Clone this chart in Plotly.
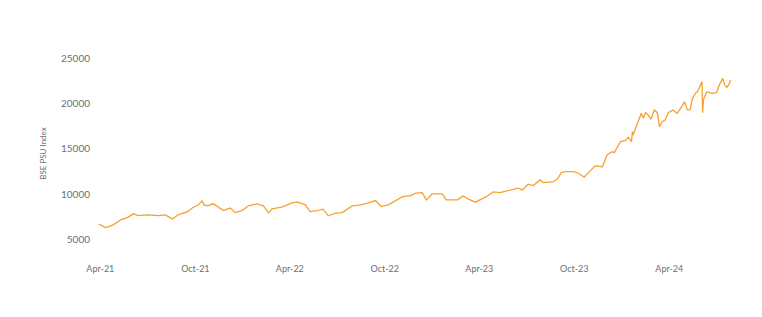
import plotly.graph_objects as go

dates = [
    "2021-03-29", "2021-04-11", "2021-04-16", "2021-04-26", "2021-05-10", "2021-05-23",
    "2021-06-04", "2021-06-13", "2021-07-02", "2021-07-22", "2021-08-04", "2021-08-18",
    "2021-08-29", "2021-09-16", "2021-09-25", "2021-10-07", "2021-10-14", "2021-10-18",
    "2021-10-24", "2021-11-05", "2021-11-24", "2021-12-07", "2021-12-17", "2021-12-30",
    "2022-01-11", "2022-01-28", "2022-02-09", "2022-02-19", "2022-02-26", "2022-03-18",
    "2022-04-06", "2022-04-17", "2022-05-01", "2022-05-10", "2022-05-24", "2022-06-04",
    "2022-06-14", "2022-06-28", "2022-07-11", "2022-07-30", "2022-08-15", "2022-08-24",
    "2022-09-13", "2022-09-24", "2022-10-08", "2022-10-21", "2022-11-04", "2022-11-15",
    "2022-11-19", "2022-11-29", "2022-12-12", "2022-12-20", "2022-12-31", "2023-01-20",
    "2023-01-27", "2023-02-18", "2023-03-01", "2023-03-11", "2023-03-24", "2023-04-13",
    "2023-04-28", "2023-05-11", "2023-05-27", "2023-06-09", "2023-06-15", "2023-06-23",
    "2023-07-04", "2023-07-14", "2023-07-27", "2023-08-02", "2023-08-20", "2023-08-29",
    "2023-09-06", "2023-09-14", "2023-09-29", "2023-10-09", "2023-10-20", "2023-10-28",
    "2023-11-10", "2023-11-24", "2023-12-03", "2023-12-13", "2023-12-17", "2023-12-25",
    "2023-12-29", "2024-01-07", "2024-01-13", "2024-01-19", "2024-01-21", "2024-01-22",
    "2024-02-01", "2024-02-07", "2024-02-11", "2024-02-15", "2024-02-20", "2024-02-26",
    "2024-03-03", "2024-03-09", "2024-03-13", "2024-03-18", "2024-03-24", "2024-03-30",
    "2024-04-08", "2024-04-16", "2024-04-26", "2024-04-30", "2024-05-06", "2024-05-11",
    "2024-05-15", "2024-05-21", "2024-05-25", "2024-06-03", "2024-06-04", "2024-06-06",
    "2024-06-12", "2024-06-22", "2024-07-01", "2024-07-07", "2024-07-13", "2024-07-17",
    "2024-07-21", "2024-07-25", "2024-07-28",
]

bse_psu = [
    6730, 6350, 6430, 6650, 7200, 7450,
    7860, 7670, 7750, 7670, 7750, 7300,
    7750, 8110, 8500, 8850, 9290, 8850,
    8740, 8960, 8220, 8500, 8000, 8220,
    8740, 8960, 8740, 7970, 8400, 8630,
    9100, 9140, 8850, 8110, 8220, 8370,
    7640, 7930, 8000, 8740, 8850, 8960,
    9320, 8660, 8850, 9320, 9760, 9840,
    9840, 10130, 10200, 9400, 10050, 10050,
    9400, 9400, 9840, 9470, 9140, 9690,
    10270, 10200, 10420, 10570, 10680, 10490,
    11120, 10970, 11590, 11300, 11370, 11670,
    12400, 12510, 12510, 12330, 11890, 12400,
    13130, 13050, 14340, 14700, 14590, 15440,
    15800, 15910, 16290, 15800, 16900, 16540,
    18000, 18920, 18370, 18990, 18740, 18260,
    19290, 18990, 17450, 18000, 18190, 18990,
    19290, 18920, 19730, 20200, 19290, 19290,
    20460, 21120, 21300, 22400, 18990, 20460,
    21300, 21120, 21190, 22140, 22770, 22030,
    21780, 22140, 22580,
]

tick_dates = ["2021-04-01", "2021-10-01", "2022-04-01", "2022-10-01",
              "2023-04-01", "2023-10-01", "2024-04-01"]
tick_labels = ["Apr-21", "Oct-21", "Apr-22", "Oct-22", "Apr-23", "Oct-23", "Apr-24"]
y_ticks = [5000, 10000, 15000, 20000, 25000]

fig = go.Figure()
fig.add_trace(go.Scatter(
    x=dates, y=bse_psu, mode="lines",
    line=dict(color="#F7A130", width=1.3),
    showlegend=False, hoverinfo="x+y",
))

fig.update_layout(
    width=762, height=317,
    margin=dict(l=91, r=20, t=49, b=59),
    paper_bgcolor="white", plot_bgcolor="white",
    font=dict(family="Lato, sans-serif", color="#6e6e6e"),
    xaxis=dict(
        range=["2021-03-14", "2024-08-19"],
        tickmode="array", tickvals=tick_dates, ticktext=tick_labels,
        showgrid=False, zeroline=False, showline=False,
        tickfont=dict(size=9, color="#6e6e6e"),
        ticks="", ticklabelstandoff=4,
    ),
    yaxis=dict(
        range=[3000, 26000],
        tickmode="array", tickvals=y_ticks, ticktext=[str(v) for v in y_ticks],
        showgrid=False, zeroline=False, showline=False,
        tickfont=dict(size=10, color="#6e6e6e"),
        ticks="",
        title=dict(text="BSE PSU Index", font=dict(size=8, color="#6e6e6e"), standoff=13),
    ),
)

fig.write_html("out.html")
